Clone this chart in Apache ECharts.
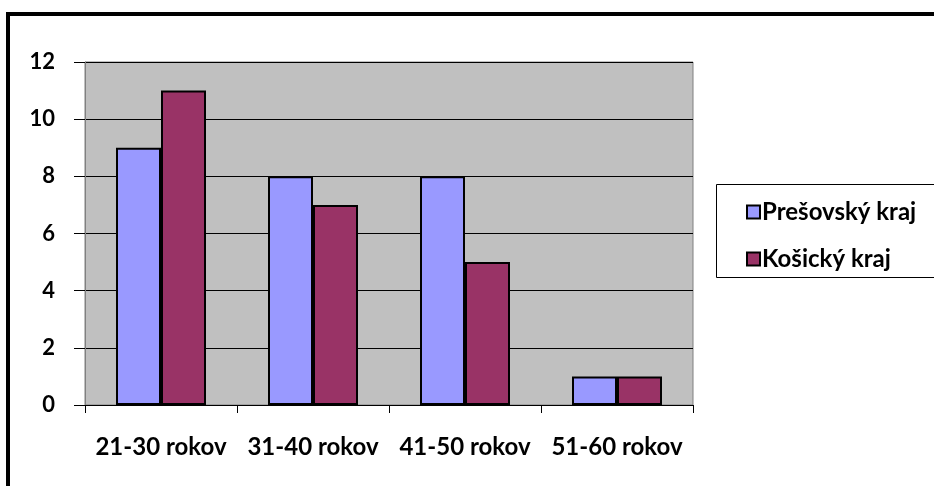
<!DOCTYPE html>
<html><head><meta charset="utf-8">
<script src="https://cdn.jsdelivr.net/npm/echarts@6/dist/echarts.min.js"></script>
<style>html,body{margin:0;padding:0;background:#fff}#c{width:934px;height:486px}</style>
</head><body><div id="c"></div>
<script>
const categories = ['21-30 rokov', '31-40 rokov', '41-50 rokov', '51-60 rokov'];
const presov = [9, 8, 8, 1];
const kosice = [11, 7, 5, 1];
const seriesNames = ['Prešovský kraj', 'Košický kraj'];
const yTicks = { min: 0, max: 12, interval: 2 };

const font = 'Lato, "Open Sans", sans-serif';
const chart = echarts.init(document.getElementById('c'));
chart.setOption({
  animation: false,
  backgroundColor: '#fff',
  graphic: [
    { type: 'rect', shape: { x: 8, y: 14, width: 1000, height: 1000 }, style: { fill: 'none', stroke: '#000', lineWidth: 4 }, z: 10 },
    { type: 'rect', shape: { x: 716.5, y: 184.5, width: 230, height: 93 }, style: { fill: '#fff', stroke: '#000', lineWidth: 1 }, z: 0 }
  ],
  grid: { left: 85, right: 241, top: 62, bottom: 81, show: true, backgroundColor: '#C0C0C0', borderColor: '#808080', borderWidth: 1 },
  legend: {
    orient: 'vertical', left: 741, top: 195, itemGap: 23, itemWidth: 13, itemHeight: 13, icon: 'rect',
    textStyle: { fontFamily: font, fontWeight: 'bold', fontSize: 24, color: '#000', padding: [0, 0, 0, -3] },
    data: seriesNames
  },
  xAxis: {
    type: 'category', data: categories,
    axisLine: { lineStyle: { color: '#000', width: 1 } },
    axisTick: { show: true, length: 8, lineStyle: { color: '#000' } },
    axisLabel: { interval: 0, fontFamily: font, fontWeight: 'bold', fontSize: 24, color: '#000', margin: 30 }
  },
  yAxis: {
    type: 'value', min: yTicks.min, max: yTicks.max, interval: yTicks.interval,
    axisLine: { show: true, lineStyle: { color: '#808080' } },
    axisTick: { show: true, length: 11, lineStyle: { color: '#000' } },
    splitLine: { lineStyle: { color: '#000', width: 1 } },
    axisLabel: { fontFamily: font, fontWeight: 'bold', fontSize: 22, color: '#000', margin: 30 }
  },
  series: [
    { name: seriesNames[0], type: 'bar', data: presov, barWidth: 45, barGap: '0%',
      itemStyle: { color: '#9999FF', borderColor: '#000', borderWidth: 2 } },
    { name: seriesNames[1], type: 'bar', data: kosice, barWidth: 45, barGap: '0%',
      itemStyle: { color: '#993366', borderColor: '#000', borderWidth: 2 } }
  ]
});
</script></body></html>
